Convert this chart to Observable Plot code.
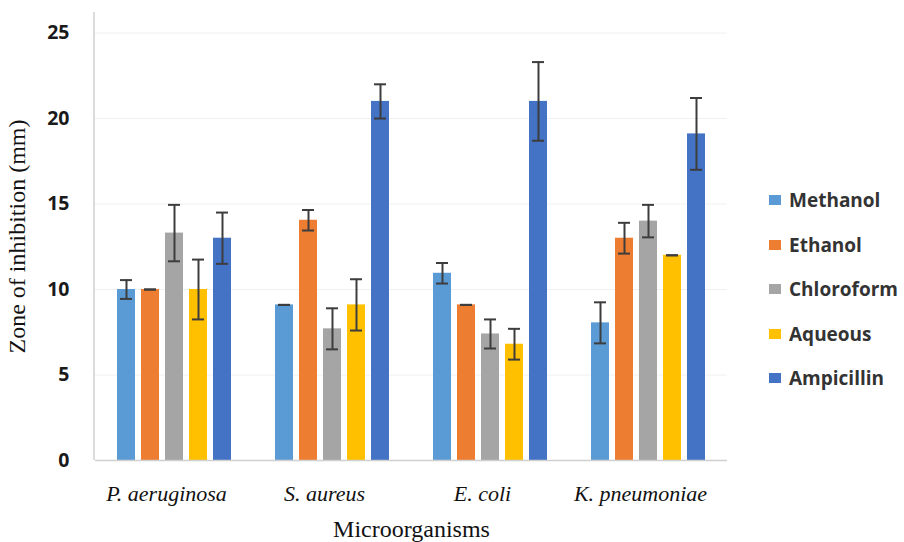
<!DOCTYPE html>
<html>
<head>
<meta charset="utf-8">
<script src="https://cdn.jsdelivr.net/npm/d3@7"></script>
<script src="https://cdn.jsdelivr.net/npm/@observablehq/plot@0.6"></script>
<style>
  html, body { margin: 0; padding: 0; background: #fff; }
  #wrap { position: relative; width: 904px; height: 542px; }
  #wrap svg { font-family: "Liberation Serif", serif; }
  g[aria-label="y-axis tick label"] { font-family: "Open Sans", sans-serif; font-weight: 700; font-size: 19.5px; fill: #1a1a1a; }
  g[aria-label="y-axis label"] { font-family: "Liberation Serif", serif; font-size: 24px; fill: #111; }
  g[aria-label="fx-axis tick label"] { font-family: "Liberation Serif", serif; font-style: italic; font-size: 22px; fill: #111; }
  g[aria-label="fx-axis label"] { font-family: "Liberation Serif", serif; font-size: 24px; fill: #111; }
  #legend { position: absolute; left: 769px; top: 178px; font-family: "Open Sans", sans-serif; font-weight: 700; font-size: 19px; color: #333; }
  #legend .row { height: 44.5px; display: flex; align-items: center; }
  #legend .sw { width: 12px; height: 10px; margin-right: 8px; }
</style>
</head>
<body>
<div id="wrap"></div>
<script>
const organisms = ["P. aeruginosa", "S. aureus", "E. coli", "K. pneumoniae"];
const solvents = ["Methanol", "Ethanol", "Chloroform", "Aqueous", "Ampicillin"];
const colors = ["#5B9BD5", "#ED7D31", "#A5A5A5", "#FFC000", "#4472C4"];

const methanol = [10.0, 9.1, 10.95, 8.05];
const methanolErr = [0.55, 0, 0.6, 1.2];
const ethanol = [10.0, 14.05, 9.1, 13.0];
const ethanolErr = [0, 0.6, 0, 0.9];
const chloroform = [13.3, 7.7, 7.4, 14.0];
const chloroformErr = [1.65, 1.2, 0.85, 0.95];
const aqueous = [10.0, 9.1, 6.8, 12.0];
const aqueousErr = [1.75, 1.5, 0.9, 0];
const ampicillin = [13.0, 21.0, 21.0, 19.1];
const ampicillinErr = [1.5, 1.0, 2.3, 2.1];

const yTicks = [0, 5, 10, 15, 20, 25];

const seriesValues = [methanol, ethanol, chloroform, aqueous, ampicillin];
const seriesErrors = [methanolErr, ethanolErr, chloroformErr, aqueousErr, ampicillinErr];

const data = [];
organisms.forEach((org, i) => {
  solvents.forEach((s, j) => {
    data.push({org, solvent: s, value: seriesValues[j][i], err: seriesErrors[j][i]});
  });
});

const plot = Plot.plot({
  width: 904,
  height: 542,
  marginLeft: 94,
  marginRight: 176,
  marginTop: 12,
  marginBottom: 82,
  fx: {domain: organisms, padding: 0},
  x: {domain: solvents, paddingInner: 0.23, paddingOuter: 0.8, axis: null},
  y: {domain: [0, 26.2], ticks: yTicks, tickSize: 0, tickPadding: 26,
      label: "Zone of inhibition (mm)", labelAnchor: "center", labelOffset: 88, labelArrow: "none"},
  color: {domain: solvents, range: colors},
  marks: [
    Plot.gridY(yTicks.slice(1), {stroke: "#f0f0f0", strokeOpacity: 1}),
    Plot.barY(data, {fx: "org", x: "solvent", y: "value", fill: "solvent"}),
    Plot.ruleY([0], {stroke: "#d0d0d0", strokeWidth: 1.5}),
    Plot.ruleX(data, {fx: "org", x: "solvent", y1: d => d.value - d.err, y2: d => d.value + d.err, stroke: "#3d3d3d", strokeWidth: 2}),
    Plot.tickY(data, {fx: "org", x: "solvent", y: d => d.value - d.err, stroke: "#3d3d3d", strokeWidth: 2, insetLeft: 3, insetRight: 3}),
    Plot.tickY(data, {fx: "org", x: "solvent", y: d => d.value + d.err, stroke: "#3d3d3d", strokeWidth: 2, insetLeft: 3, insetRight: 3}),
    Plot.axisFx({anchor: "bottom", tickSize: 0, tickPadding: 25, dx: -8, label: null}),
    Plot.axisFx({anchor: "bottom", tickSize: 0, tickFormat: () => "", dx: 11, label: "Microorganisms", labelAnchor: "center", labelOffset: 76})
  ]
});

// left axis line drawn from the plot's own scales
const ys = plot.scale("y");
const fxs = plot.scale("fx");
const x0 = fxs.range[0];
d3.select(plot).append("line")
  .attr("x1", x0).attr("x2", x0)
  .attr("y1", ys.apply(0)).attr("y2", ys.apply(26.2))
  .attr("stroke", "#d0d0d0").attr("stroke-width", 1.5);

const wrap = document.getElementById("wrap");
wrap.appendChild(plot);

const legend = document.createElement("div");
legend.id = "legend";
solvents.forEach((s, j) => {
  const row = document.createElement("div");
  row.className = "row";
  const sw = document.createElement("span");
  sw.className = "sw";
  sw.style.background = colors[j];
  const t = document.createElement("span");
  t.textContent = s;
  row.appendChild(sw);
  row.appendChild(t);
  legend.appendChild(row);
});
wrap.appendChild(legend);
</script>
</body>
</html>
